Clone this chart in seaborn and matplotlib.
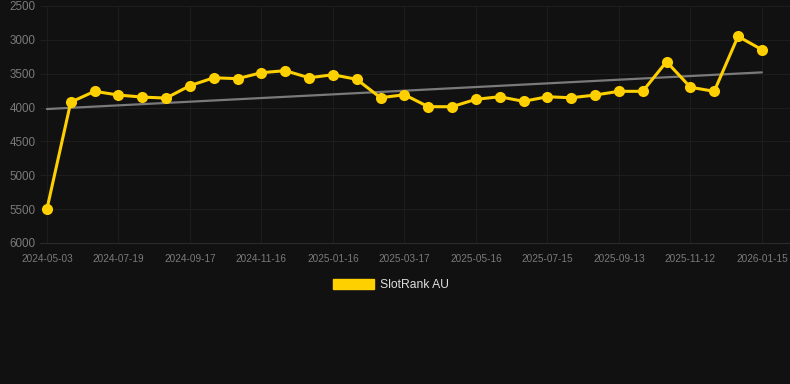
import numpy as np
import pandas as pd
import matplotlib
matplotlib.use("Agg")
import matplotlib.pyplot as plt
from matplotlib.patches import Patch
import seaborn as sns

# data (rank, lower is better -> inverted axis)
ranks = [5500, 3920, 3760, 3815, 3845, 3860, 3677, 3560, 3573, 3485, 3455,
         3560, 3515, 3583, 3855, 3810, 3987, 3987, 3878, 3840, 3908, 3840,
         3855, 3815, 3760, 3760, 3322, 3700, 3760, 2948, 3145]
tick_labels = ["2024-05-03", "2024-07-19", "2024-09-17", "2024-11-16",
               "2025-01-16", "2025-03-17", "2025-05-16", "2025-07-15",
               "2025-09-13", "2025-11-12", "2026-01-15"]
y_ticks = [2500, 3000, 3500, 4000, 4500, 5000, 5500, 6000]
series_name = "SlotRank AU"

df = pd.DataFrame({"idx": np.arange(len(ranks)), "rank": ranks})

sns.set_style("dark")
plt.rcParams['font.family'] = ['Liberation Sans', 'DejaVu Sans']

bg = "#111111"
gold = "#FFD000"

fig = plt.figure(figsize=(7.9, 3.84), dpi=100, facecolor=bg)
ax = fig.add_axes([40 / 790, 1 - 243 / 384, 750 / 790, 237 / 384])
ax.set_facecolor(bg)

# trend line (linear regression over all points)
sns.regplot(data=df, x="idx", y="rank", scatter=False, ci=None, ax=ax,
            line_kws={"color": "#7a7a7a", "lw": 1.6, "zorder": 2})

sns.lineplot(data=df, x="idx", y="rank", ax=ax, color=gold, lw=2.2,
             marker="o", markersize=8, markeredgewidth=0, zorder=3)

ax.set_ylim(6000, 2500)
ax.set_xlim(-0.29, 31.18)
ax.set_yticks(y_ticks)
ax.set_yticklabels([str(v) for v in y_ticks])
ax.set_xticks(np.arange(0, len(ranks), 3))
ax.set_xticklabels(tick_labels)
ax.set_xlabel("")
ax.set_ylabel("")

ax.grid(True, color="#1d1d1d", lw=0.8)
for s in ["top", "right", "left"]:
    ax.spines[s].set_visible(False)
ax.spines["bottom"].set_visible(True)
ax.spines["bottom"].set_color("#2c2c2c")
ax.spines["bottom"].set_linewidth(0.8)

ax.tick_params(axis="y", length=0, pad=3, labelsize=8.4, labelcolor="#7a7a7a")
ax.tick_params(axis="x", length=0, pad=8, labelsize=7.2, labelcolor="#7a7a7a")

leg = fig.legend(handles=[Patch(facecolor=gold, edgecolor=gold, label=series_name)],
                 loc="center", bbox_to_anchor=(0.495, 1 - 285 / 384),
                 frameon=False, fontsize=8.7, handlelength=3.4,
                 handleheight=0.95, handletextpad=0.5)
for t in leg.get_texts():
    t.set_color("#dddddd")

fig.savefig("out.png", dpi=100, facecolor=bg)
